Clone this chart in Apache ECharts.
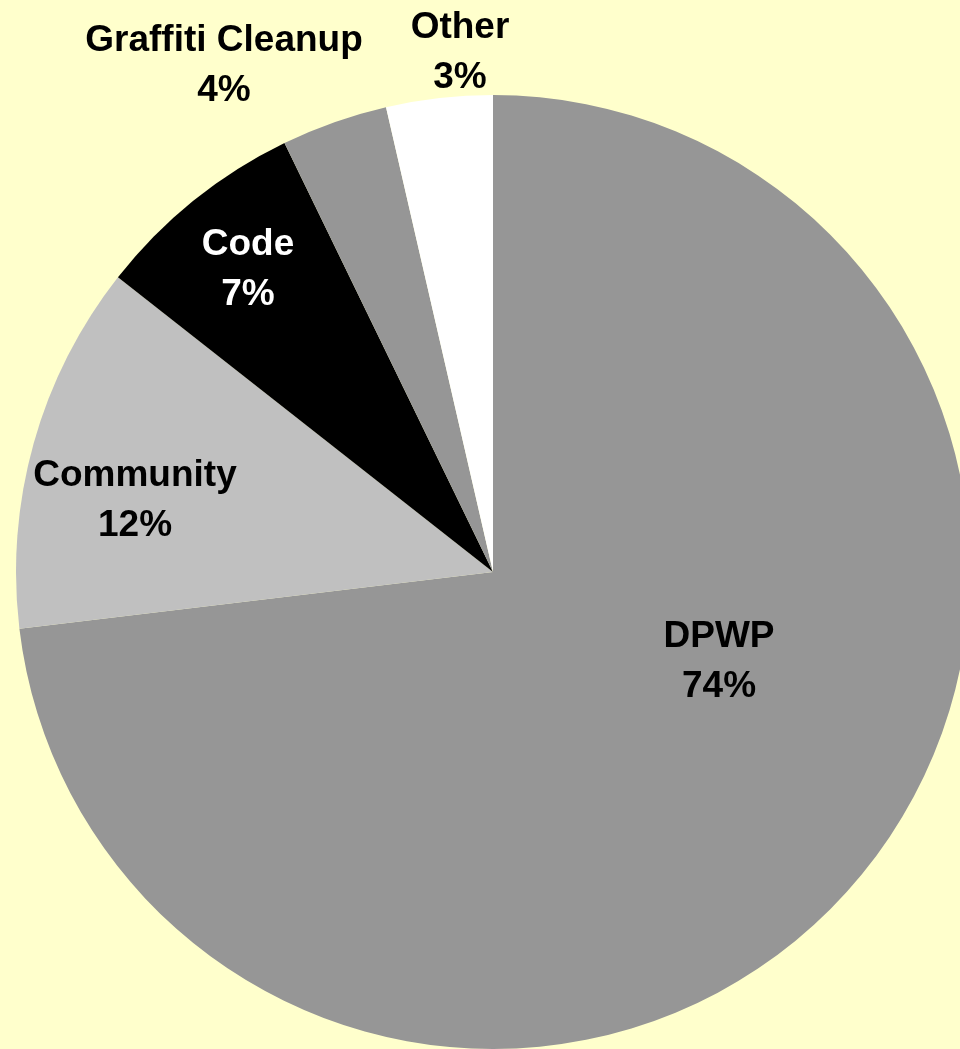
<!DOCTYPE html>
<html>
<head>
<meta charset="utf-8">
<script src="https://cdn.jsdelivr.net/npm/echarts@6/dist/echarts.min.js"></script>
<style>
html,body{margin:0;padding:0;background:#ffffcc;}
#chart{width:960px;height:1049px;}
</style>
</head>
<body>
<div id="chart"></div>
<script>
// Data
const categories = ['DPWP', 'Community', 'Code', 'Graffiti Cleanup', 'Other'];
const shares = [73.1, 12.5, 7.2, 3.6, 3.6];          // slice sizes
const percentLabels = ['74%', '12%', '7%', '4%', '3%']; // printed percentages

// Styles / layout (kept separate from data)
const sliceColors = ['#969696', '#c0c0c0', '#000000', '#969696', '#ffffff'];
const labelColors = ['#000000', '#000000', '#ffffff', '#000000', '#000000'];
const labelCenters = [[719, 662], [135, 501], [248, 270], [224, 66], [460, 53]];

const chart = echarts.init(document.getElementById('chart'));
chart.setOption({
  backgroundColor: '#ffffcc',
  animation: false,
  series: [{
    type: 'pie',
    center: [493, 572],
    radius: 477,
    startAngle: 90,
    clockwise: true,
    silent: true,
    avoidLabelOverlap: false,
    itemStyle: { borderWidth: 0 },
    label: {
      show: true,
      position: 'inside',
      fontFamily: '"Liberation Sans", Arial, sans-serif',
      fontWeight: 'bold',
      fontSize: 37,
      lineHeight: 50,
      align: 'center'
    },
    labelLine: { show: false },
    labelLayout: function (params) {
      const p = labelCenters[params.dataIndex];
      return { x: p[0], y: p[1], align: 'center', verticalAlign: 'middle' };
    },
    data: categories.map((name, i) => ({
      name: name,
      value: shares[i],
      itemStyle: { color: sliceColors[i] },
      label: {
        color: labelColors[i],
        formatter: name + '\n' + percentLabels[i]
      }
    }))
  }]
});
</script>
</body>
</html>
